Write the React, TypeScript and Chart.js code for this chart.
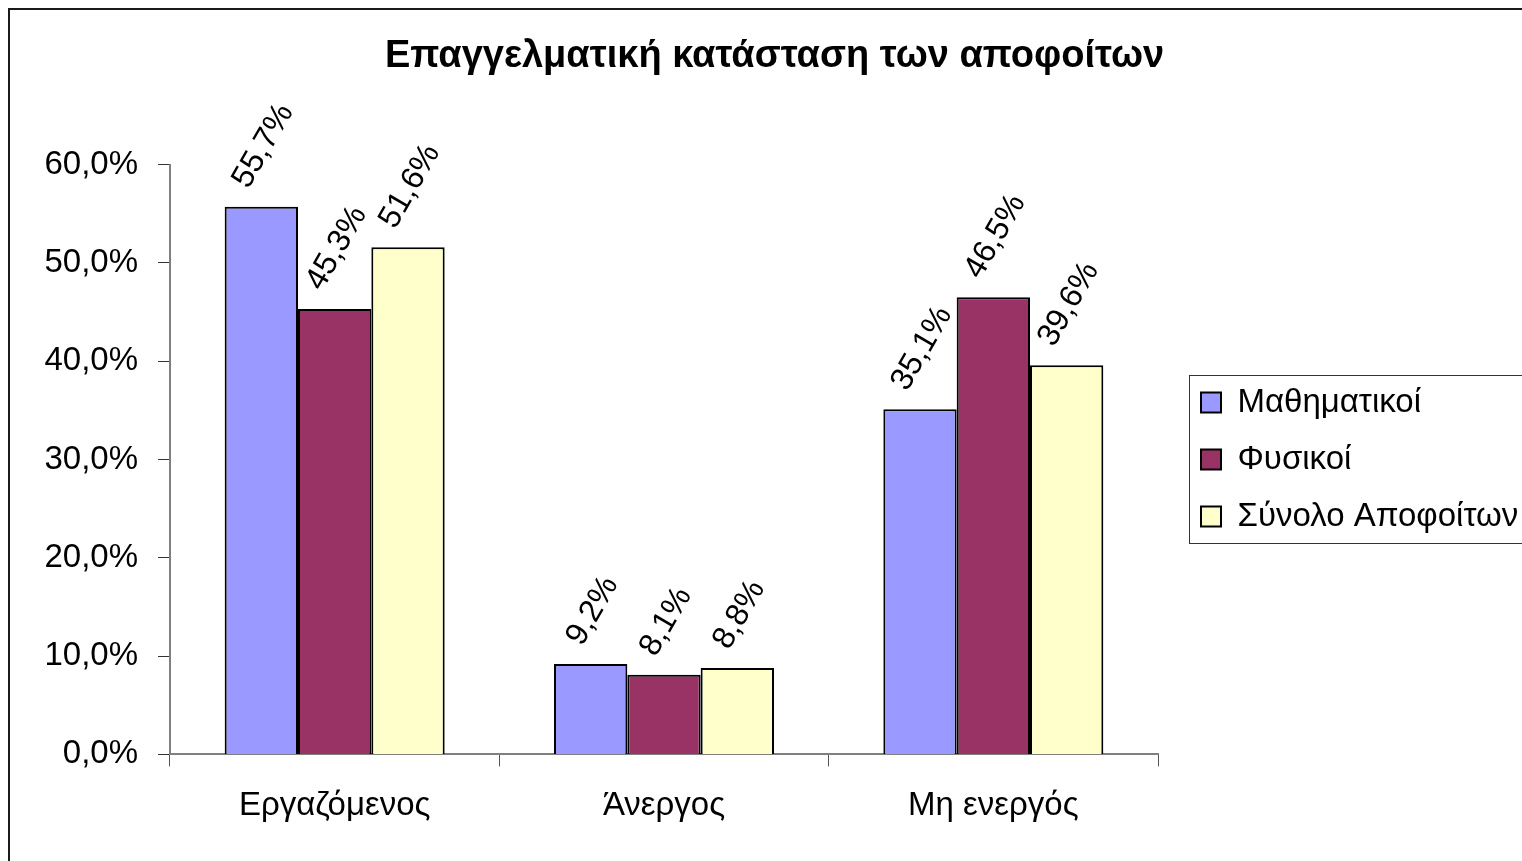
import React, { useEffect, useRef } from "react";
import { Chart, registerables } from "chart.js";

Chart.register(...registerables);

const chartTitle = "Επαγγελματική κατάσταση των αποφοίτων";
const categories = ["Εργαζόμενος", "Άνεργος", "Μη ενεργός"];
const seriesNames = ["Μαθηματικοί", "Φυσικοί", "Σύνολο Αποφοίτων"];
const mathematicians = [55.7, 9.2, 35.1];
const physicists = [45.3, 8.1, 46.5];
const allGraduates = [51.6, 8.8, 39.6];
const seriesColors = ["#9999FF", "#993366", "#FFFFCC"];
const yTicks = [0, 10, 20, 30, 40, 50, 60];

const CANVAS_W = 1533;
const CANVAS_H = 853;
const FONT = "'Liberation Sans', Arial, sans-serif";
const LABEL_ANGLE = (60 * Math.PI) / 180;
const LEGEND_PAD = 24;

const fmt = (v: number) => v.toFixed(1).replace(".", ",") + "%";

const frame = {
  id: "frame",
  beforeDraw(chart: any) {
    const ctx = chart.ctx;
    ctx.save();
    ctx.fillStyle = "#ffffff";
    ctx.fillRect(0, 0, chart.width, chart.height);
    ctx.fillStyle = "#1a1a1a";
    ctx.fillRect(0, 0, chart.width, 2);
    ctx.fillRect(0, 0, 2, chart.height);
    ctx.strokeStyle = "#333333";
    ctx.lineWidth = 1;
    ctx.strokeRect(1181.5, 367.5, 400, 168);
    ctx.restore();
  },
};

const legendSpace = {
  id: "legendSpace",
  beforeInit(chart: any) {
    const lg = chart.legend;
    if (!lg) return;
    const orig = lg.fit;
    lg.fit = function () {
      orig.call(this);
      this.width = 383;
    };
  },
  afterLayout(chart: any) {
    const lg = chart.legend;
    if (!lg) return;
    lg.left = 1193 - LEGEND_PAD;
  },
};

const barLabels = {
  id: "barLabels",
  afterDatasetsDraw(chart: any) {
    const ctx = chart.ctx;
    ctx.save();
    ctx.font = "32px " + FONT;
    ctx.fillStyle = "#000";
    ctx.textAlign = "center";
    ctx.textBaseline = "middle";
    chart.data.datasets.forEach((ds: any, di: number) => {
      const meta = chart.getDatasetMeta(di);
      meta.data.forEach((el: any, i: number) => {
        const text = fmt(ds.data[i]);
        const w = ctx.measureText(text).width;
        const h = 30;
        const H = w * Math.sin(LABEL_ANGLE) + h * Math.cos(LABEL_ANGLE);
        const cx = el.x + 2;
        const cy = el.y - 14 - H / 2;
        ctx.save();
        ctx.translate(cx, cy);
        ctx.rotate(-LABEL_ANGLE);
        ctx.fillText(text, 0, 0);
        ctx.restore();
      });
    });
    ctx.restore();
  },
};

export default function App() {
  const ref = useRef<HTMLCanvasElement>(null);

  useEffect(() => {
    document.documentElement.style.overflow = "hidden";
    const canvas = ref.current;
    if (!canvas) return;
    const data = [mathematicians, physicists, allGraduates];
    const chart = new Chart(canvas, {
      type: "bar",
      data: {
        labels: categories,
        datasets: seriesNames.map((name, i) => ({
          label: name,
          data: data[i],
          backgroundColor: seriesColors[i],
          borderColor: "#000000",
          borderWidth: 2,
          categoryPercentage: 0.668,
          barPercentage: 1.0,
        })),
      },
      options: {
        responsive: false,
        animation: false,
        devicePixelRatio: 1,
        layout: { padding: { left: 0, right: 0, top: 0, bottom: 15 } },
        plugins: {
          title: {
            display: true,
            text: chartTitle,
            color: "#000",
            font: { family: FONT, size: 38, weight: "bold" },
            padding: { top: 26, bottom: 85 },
          },
          legend: {
            display: true,
            position: "right",
            fullSize: false,
            align: "center",
            labels: {
              color: "#000",
              font: { family: FONT, size: 33 },
              boxWidth: 20,
              boxHeight: 20,
              padding: LEGEND_PAD,
              generateLabels: (chart: any) =>
                chart.data.datasets.map((ds: any, i: number) => ({
                  text: ds.label,
                  fillStyle: ds.backgroundColor,
                  strokeStyle: "#000",
                  lineWidth: 2,
                  hidden: false,
                  datasetIndex: i,
                  fontColor: "#000",
                })),
            },
          },
          tooltip: { enabled: false },
        },
        scales: {
          x: {
            type: "category",
            grid: {
              display: true,
              offset: true,
              drawOnChartArea: false,
              drawTicks: true,
              tickLength: 12,
              color: "#555555",
              lineWidth: 1,
            },
            border: { display: true, color: "#808080", width: 2 },
            ticks: {
              color: "#000",
              font: { family: FONT, size: 33 },
              padding: 20,
              maxRotation: 0,
              minRotation: 0,
            },
          },
          y: {
            min: 0,
            max: 60,
            afterFit: (scale: any) => {
              scale.width = 162;
            },
            afterBuildTicks: (scale: any) => {
              scale.ticks = yTicks.map((v) => ({ value: v }));
            },
            grid: {
              display: true,
              drawOnChartArea: false,
              drawTicks: true,
              tickLength: 12,
              color: "#333333",
              lineWidth: 1,
            },
            border: { display: true, color: "#808080", width: 2 },
            ticks: {
              color: "#000",
              font: { family: FONT, size: 33 },
              padding: 20,
              callback: (v: any) => fmt(Number(v)),
            },
          },
        },
      },
      plugins: [frame, legendSpace, barLabels],
    } as any);
    return () => chart.destroy();
  }, []);

  return (
    <div
      style={{
        position: "fixed",
        left: 8,
        top: 8,
        width: 1514,
        height: 853,
        overflow: "hidden",
        background: "#fff",
      }}
    >
      <canvas
        ref={ref}
        width={CANVAS_W}
        height={CANVAS_H}
        style={{ display: "block", width: CANVAS_W, height: CANVAS_H }}
      />
    </div>
  );
}
